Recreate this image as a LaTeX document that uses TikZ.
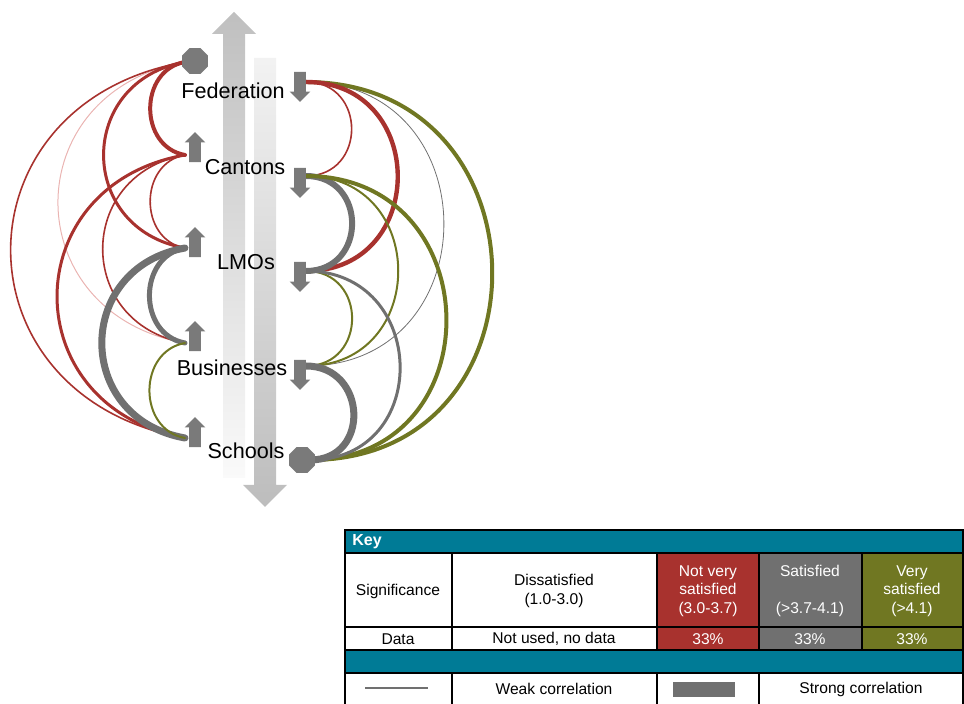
\documentclass[tikz,border=0pt]{standalone}
\usepackage{fontspec}
\setmainfont{Liberation Sans}
\usetikzlibrary{shapes.geometric, shapes.arrows}

\definecolor{arcred}{RGB}{168,50,46}
\definecolor{arcgray}{RGB}{112,112,112}
\definecolor{arcolive}{RGB}{112,119,34}
\definecolor{arcpink}{RGB}{234,180,178}
\definecolor{keyteal}{RGB}{0,123,150}
\definecolor{markgray}{RGB}{122,122,122}

\tikzset{
    lvlname/.style = {font=\fontsize{10.8}{13}\selectfont, inner sep=0pt},
    keytext/.style = {font=\fontsize{7.8}{9.2}\selectfont, align=center, inner sep=0pt},
    upmark/.style = {single arrow, rotate=90, fill=markgray,
        inner xsep=0pt, inner ysep=2.75pt,
        minimum height=15pt, single arrow head extend=2.25pt},
    downmark/.style = {upmark, rotate=180},
    octmark/.style = {regular polygon, regular polygon sides=8, fill=markgray,
        minimum size=14pt, inner sep=0pt},
    larc/.style = {out=190, in=170, looseness=#1},
    rarc/.style = {out=0, in=0, looseness=1.66}}

\begin{document}
\begin{tikzpicture} [x=0.5pt, y=0.5pt, line cap=round]
    \useasboundingbox (0,0) rectangle (964,-704);

    % big arrows
    \shade [top color=black!25, middle color=black!20, bottom color=black!2]
        (223,-478) -- (223,-34) -- (212,-34) -- (234,-12) -- (256,-34)
        -- (245,-34) -- (245,-478) -- cycle;
    \shade [top color=black!5, bottom color=black!26]
        (254,-58) -- (254,-485) -- (243,-485) -- (265,-507) -- (287,-485)
        -- (276,-485) -- (276,-58) -- cycle;

    \node (fed) [lvlname] at (233,-91) {Federation};
    \node (can) [lvlname] at (245,-167) {Cantons};
    \node (lmo) [lvlname] at (246,-262) {LMOs};
    \node (bus) [lvlname] at (232,-368) {Businesses};
    \node (sch) [lvlname] at (246,-451) {Schools};

    \coordinate (fedL) at (185,-62);
    \coordinate (canL) at (185,-155);
    \coordinate (lmoL) at (185,-248);
    \coordinate (busL) at (185,-343);
    \coordinate (schL) at (185,-438);

    \coordinate (fedR) at (306,-82);
    \coordinate (canR) at (306,-176);
    \coordinate (lmoR) at (306,-271);
    \coordinate (busR) at (306,-366);
    \coordinate (schR) at (310,-460);

    % left side
    \path
        (fedL) edge [arcpink, line width=0.5pt, larc=1.57] (busL)
        (fedL) edge [arcred, line width=0.8pt, larc=1.61] (schL)
        (fedL) edge [arcred, line width=2pt, larc=1.30] (canL)
        (fedL) edge [arcred, line width=1.5pt, larc=1.52] (lmoL)
        (canL) edge [arcred, line width=0.8pt, larc=1.30] (lmoL)
        (canL) edge [arcred, line width=0.8pt, larc=1.52] (busL)
        (canL) edge [arcred, line width=1.5pt, larc=1.57] (schL)
        (lmoL) edge [arcgray, line width=2.5pt, larc=1.30] (busL)
        (lmoL) edge [arcgray, line width=3.5pt, larc=1.52] (schL)
        (busL) edge [arcolive, line width=1pt, larc=1.30] (schL);

    % right side
    \path [rarc]
        (fedR) edge [arcgray, line width=0.4pt] (busR)
        (fedR) edge [arcolive, line width=2pt] (schR)
        (fedR) edge [arcred, line width=0.8pt] (canR)
        (fedR) edge [arcred, line width=2.2pt] (lmoR)
        (canR) edge [arcgray, line width=3pt] (lmoR)
        (canR) edge [arcolive, line width=1pt] (busR)
        (canR) edge [arcolive, line width=2pt] (schR)
        (lmoR) edge [arcolive, line width=1pt] (busR)
        (lmoR) edge [arcgray, line width=1.5pt] (schR)
        (busR) edge [arcgray, line width=3.5pt] (schR);

    % markers
    \node (fedup) [octmark] at (195,-61) {};
    \node (canup) [upmark] at (195,-150) {};
    \node (lmoup) [upmark] at (195,-245) {};
    \node (busup) [upmark] at (195,-339) {};
    \node (schup) [upmark] at (195,-435) {};

    \node (feddn) [downmark] at (300,-84) {};
    \node (candn) [downmark] at (300,-180) {};
    \node (lmodn) [downmark] at (300,-274) {};
    \node (busdn) [downmark] at (300,-372) {};
    \node (schdn) [octmark] at (302,-460) {};

    % key
    \fill [keyteal] (345,-530) rectangle (963,-553);
    \fill [arcred] (657,-553) rectangle (759,-650);
    \fill [arcgray] (759,-553) rectangle (862,-650);
    \fill [arcolive] (862,-553) rectangle (963,-650);
    \fill [keyteal] (345,-650) rectangle (963,-673);
    \draw [line width=1pt, line cap=butt]
        (345,-704) -- (345,-530) -- (963,-530) -- (963,-704)
        (345,-553) -- (963,-553)
        (345,-627) -- (963,-627)
        (345,-650) -- (963,-650)
        (345,-673) -- (963,-673)
        (452,-553) -- (452,-650) (657,-553) -- (657,-650)
        (759,-553) -- (759,-650) (862,-553) -- (862,-650)
        (452,-673) -- (452,-704) (657,-673) -- (657,-704)
        (759,-673) -- (759,-704);

    \node (kkey) [keytext, anchor=west, text=white, font=\fontsize{8}{9.2}\selectfont\bfseries]
        at (352,-542) {Key};
    \node (ksig) [keytext] at (398,-591) {Significance};
    \node (kdis) [keytext] at (554,-591) {Dissatisfied\\(1.0-3.0)};
    \node (knot) [keytext, text=white] at (708,-591) {Not very\\satisfied\\(3.0-3.7)};
    \node (ksat) [keytext, text=white] at (810,-591) {Satisfied\\[9.2pt](>3.7-4.1)};
    \node (kvery) [keytext, text=white] at (912,-591) {Very\\satisfied\\(>4.1)};

    \node (kdata) [keytext] at (398,-639) {Data};
    \node (knone) [keytext] at (554,-639) {Not used, no data};
    \node (kred) [keytext, text=white] at (708,-639) {33\%};
    \node (kgray) [keytext, text=white] at (810,-639) {33\%};
    \node (kolive) [keytext, text=white] at (912,-639) {33\%};

    \draw [arcgray, line width=1.25pt, line cap=butt] (365,-688) -- (428,-688);
    \node (kweak) [keytext] at (554,-689) {Weak correlation};
    \fill [arcgray] (673,-682) rectangle (735,-697);
    \node (kstrong) [keytext] at (861,-689) {Strong correlation};
\end{tikzpicture}
\end{document}
